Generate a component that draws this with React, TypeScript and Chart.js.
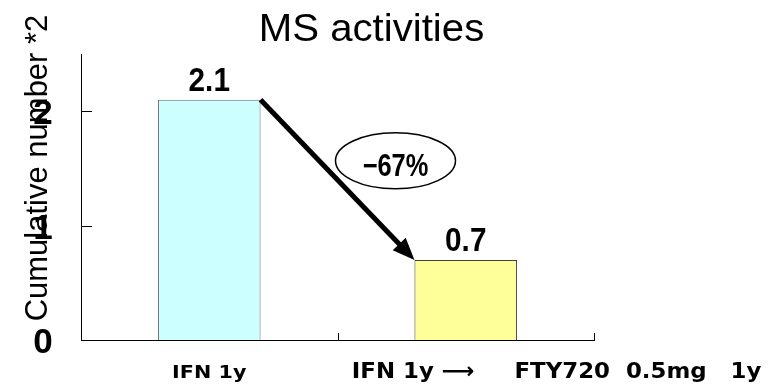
import React, { useEffect, useRef } from 'react';
import { Chart, registerables } from 'chart.js';

Chart.register(...registerables);

// ---- data ----
const categories = ['IFN 1y', 'IFN 1y ⟶     FTY720  0.5mg   1y'];
const cumulativeNumber = [2.1, 0.7];
const valueLabels = ['2.1', '0.7'];
const barFills = ['#CCFFFF', '#FFFF99'];
const barEdges = ['#6a6a6a', '#404040'];
const yTickValues = [0, 1, 2];
const yTickLabels = ['0', '1', '2'];
const yMax = 2.5;
const chartTitle = 'MS activities';
const yAxisTitle = 'Cumulative number *2';

const SANS = '"Liberation Sans", Arial, sans-serif';
const WIDE = '"DejaVu Sans", "Liberation Sans", sans-serif';

function drawText(
  ctx: CanvasRenderingContext2D,
  text: string,
  x: number,
  y: number,
  font: string,
  align: CanvasTextAlign,
  sx = 1
) {
  ctx.save();
  ctx.font = font;
  ctx.textAlign = align;
  ctx.textBaseline = 'alphabetic';
  ctx.translate(x, y);
  ctx.scale(sx, 1);
  ctx.fillText(text, 0, 0);
  ctx.restore();
}

// Axis decorations, labels and the change annotation
const decorations = {
  id: 'decorations',
  afterDraw(chart: any) {
    const { ctx, chartArea } = chart;
    const xs = chart.scales.x;
    const ys = chart.scales.y;
    const bars = chart.getDatasetMeta(0).data;
    ctx.save();
    ctx.fillStyle = '#000';
    ctx.strokeStyle = '#000';

    // inward tick marks on the value axis
    ctx.lineWidth = 1;
    yTickValues.forEach((v) => {
      if (v === 0) return;
      const py = Math.round(ys.getPixelForValue(v)) + 0.5;
      ctx.beginPath();
      ctx.moveTo(chartArea.left, py);
      ctx.lineTo(chartArea.left + 11, py);
      ctx.stroke();
    });
    // inward tick marks at category boundaries
    for (let i = 1; i <= categories.length; i++) {
      const px = Math.round(xs.getPixelForValue(i - 0.5)) + 0.5;
      ctx.beginPath();
      ctx.moveTo(px, chartArea.bottom);
      ctx.lineTo(px, chartArea.bottom - 7);
      ctx.stroke();
    }

    // value axis labels
    yTickValues.forEach((v, i) => {
      const py = ys.getPixelForValue(v);
      drawText(ctx, yTickLabels[i], chartArea.left - 38, py + 13, `bold 35px ${SANS}`, 'center');
    });

    // value axis title
    ctx.save();
    ctx.translate(chartArea.left - 34, 168);
    ctx.rotate(-Math.PI / 2);
    drawText(ctx, yAxisTitle, 0, 0, `31px ${SANS}`, 'center');
    ctx.restore();

    // chart title
    drawText(ctx, chartTitle, chart.width / 2 - 13, 41, `39px ${SANS}`, 'center', 1.03);

    // category labels
    drawText(ctx, categories[0], xs.getPixelForValue(0), chartArea.bottom + 38, `bold 18px ${WIDE}`, 'center', 1.15);
    drawText(ctx, categories[1], xs.getPixelForValue(1) - 114, chartArea.bottom + 38, `bold 22px ${WIDE}`, 'left', 1.04);

    // value labels above the bars
    bars.forEach((bar: any, i: number) => {
      drawText(ctx, valueLabels[i], bar.x, bar.y - 9, `bold 33px ${SANS}`, 'center', 0.9);
    });

    // arrow from the first bar's top corner to the second's
    const b0 = bars[0];
    const b1 = bars[1];
    const x0 = b0.x + b0.width / 2;
    const y0 = b0.y;
    const x1 = b1.x - b1.width / 2;
    const y1 = b1.y;
    const ang = Math.atan2(y1 - y0, x1 - x0);
    const headLen = 22;
    const headHalf = 9;
    const bx = x1 - headLen * Math.cos(ang);
    const by = y1 - headLen * Math.sin(ang);
    ctx.lineWidth = 5;
    ctx.lineCap = 'butt';
    ctx.beginPath();
    ctx.moveTo(x0, y0);
    ctx.lineTo(bx + 2 * Math.cos(ang), by + 2 * Math.sin(ang));
    ctx.stroke();
    ctx.beginPath();
    ctx.moveTo(x1, y1);
    ctx.lineTo(bx + headHalf * Math.sin(ang), by - headHalf * Math.cos(ang));
    ctx.lineTo(bx - headHalf * Math.sin(ang), by + headHalf * Math.cos(ang));
    ctx.closePath();
    ctx.fill();

    // percentage change in an ellipse beside the arrow
    const pct = Math.round(((cumulativeNumber[1] - cumulativeNumber[0]) / cumulativeNumber[0]) * 100);
    const pctText = (pct < 0 ? '\u2212' : '+') + Math.abs(pct) + '%';
    const ex = (x0 + x1) / 2 + 58;
    const ey = (y0 + y1) / 2 - 19;
    ctx.fillStyle = '#fff';
    ctx.lineWidth = 1.5;
    ctx.beginPath();
    ctx.ellipse(ex, ey, 60, 28, 0, 0, Math.PI * 2);
    ctx.fill();
    ctx.stroke();
    ctx.fillStyle = '#000';
    drawText(ctx, pctText, ex, ey + 15, `bold 31px ${SANS}`, 'center', 0.82);

    ctx.restore();
  },
};

export default function App() {
  const canvasRef = useRef<HTMLCanvasElement | null>(null);

  useEffect(() => {
    if (!canvasRef.current) return;
    const chart = new Chart(canvasRef.current, {
      type: 'bar',
      data: {
        labels: categories,
        datasets: [
          {
            data: cumulativeNumber,
            backgroundColor: barFills,
            borderColor: barEdges,
            borderWidth: 1,
            barPercentage: 0.4,
            categoryPercentage: 1,
          },
        ],
      },
      options: {
        animation: false,
        responsive: false,
        devicePixelRatio: 1,
        layout: { padding: { left: 81, top: 54, right: 175, bottom: 48 } },
        plugins: {
          legend: { display: false },
          title: { display: false },
          tooltip: { enabled: false },
        },
        scales: {
          x: {
            type: 'category',
            offset: true,
            grid: { display: false, drawTicks: false },
            ticks: { display: false },
            border: { display: true, color: '#000', width: 1 },
          },
          y: {
            min: 0,
            max: yMax,
            grid: { display: false, drawTicks: false },
            ticks: { display: false },
            border: { display: true, color: '#000', width: 1 },
          },
        },
      },
      plugins: [decorations],
    });
    return () => chart.destroy();
  }, []);

  return (
    <div style={{ position: 'fixed', left: 0, top: 0, width: 769, height: 388, background: '#fff' }}>
      <canvas ref={canvasRef} width={769} height={388} style={{ display: 'block' }} />
    </div>
  );
}
